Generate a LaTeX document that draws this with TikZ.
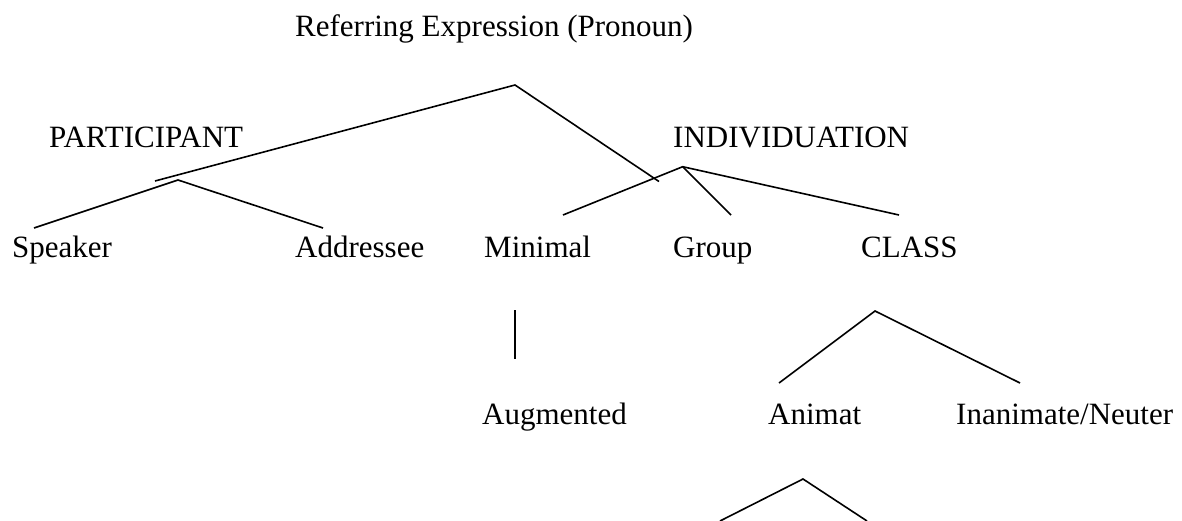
\documentclass[tikz,border=0pt]{standalone}
\usepackage{fontspec}
\setmainfont{Liberation Serif}
\begin{document}
\begin{tikzpicture}[x=1pt,y=-1pt,
  lbl/.style={anchor=base west,inner sep=0pt,font=\fontsize{31}{37}\selectfont},
  branch/.style={line width=1.6pt,line cap=butt}]
\useasboundingbox (0,0) rectangle (1182,521);
% labels
\node[lbl] (ref) at (295,36.5) {Referring Expression (Pronoun)};
\node[lbl] (part) at (49,148) {PARTICIPANT};
\node[lbl] (indiv) at (673,148) {INDIVIDUATION};
\node[lbl] (spk) at (12,257.5) {Speaker};
\node[lbl] (addr) at (295,257.5) {Addressee};
\node[lbl] (mini) at (484,257.5) {Minimal};
\node[lbl] (grp) at (673,257.5) {Group};
\node[lbl] (cls) at (861,257.5) {CLASS};
\node[lbl] (aug) at (482,424) {Augmented};
\node[lbl] (anim) at (768,424) {Animat};
\node[lbl] (inan) at (956,424) {Inanimate/Neuter};
% branch points
\coordinate (refT) at (515,85);
\coordinate (refL) at (155,181);
\coordinate (refR) at (659,181.5);
\coordinate (partT) at (178,180);
\coordinate (spkE) at (34,228);
\coordinate (addrE) at (323,228);
\coordinate (indT) at (682.7,166.7);
\coordinate (miniE) at (563,215);
\coordinate (grpE) at (731,215);
\coordinate (clsE) at (899,215);
\coordinate (augT) at (515,310);
\coordinate (augB) at (515,359);
\coordinate (clsT) at (875,311);
\coordinate (animE) at (779,383);
\coordinate (inanE) at (1020,383);
\coordinate (anT) at (803,479);
\coordinate (anL) at (720,521);
\coordinate (anR) at (867,521);
% connectors
\draw[branch] (refL) -- (refT) -- (refR);
\draw[branch] (spkE) -- (partT) -- (addrE);
\draw[branch] (miniE) -- (indT) -- (clsE);
\draw[branch] (indT) -- (grpE);
\draw[branch] (augT) -- (augB);
\draw[branch] (animE) -- (clsT) -- (inanE);
\draw[branch] (anL) -- (anT) -- (anR);
\end{tikzpicture}
\end{document}
